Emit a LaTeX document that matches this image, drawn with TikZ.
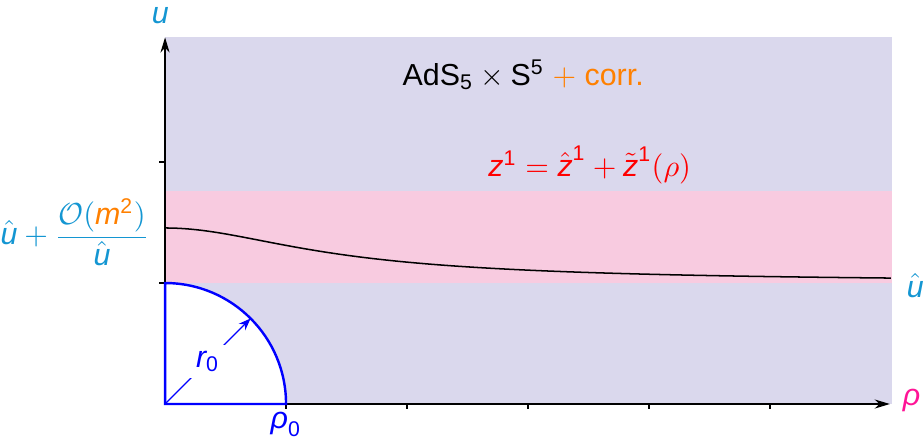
\documentclass[tikz,border=0pt]{standalone}
\usepackage{amsmath}
\usepackage{fontspec}
\setmainfont{Liberation Sans}
\usetikzlibrary{arrows.meta, positioning}

\definecolor{lavbg}{RGB}{218,216,237}
\definecolor{pinkbg}{RGB}{248,203,224}
\definecolor{ucol}{RGB}{20,150,210}
\definecolor{rhocol}{RGB}{255,20,150}
\definecolor{corrcol}{RGB}{255,128,0}

\newcommand{\mv}[1]{\textit{#1}}

\begin{document}
\begin{tikzpicture}[
    x=1.4cm, y=1.4cm,
    axis/.style={-{Stealth[length=5pt, width=3pt]}, line width=0.4pt, draw=black},
    tick/.style={line width=0.4pt, draw=black},
    horizon/.style={draw=blue, line width=0.8pt, fill=white},
    rarr/.style={-{Stealth[length=4pt, width=3pt]}, line width=0.4pt, draw=blue},
    lbl/.style={inner sep=1pt, font=\normalsize},
]

\useasboundingbox (-1.364,-0.281) rectangle (6.264,3.339);

% --- anchors ---
\coordinate (O)    at (0,0);
\coordinate (xend) at (5.99,0);
\coordinate (yend) at (0,3.03);
\coordinate (arcpt) at (45:1);

% --- regions ---
\fill [lavbg]  (0,0) rectangle (6.01,3.03);
\fill [pinkbg] (0,1) rectangle (6.01,1.76);

% --- axes ---
\draw [axis] (O) -- (xend);
\draw [axis] (O) -- (yend);
\foreach \i in {1,...,5}
    \draw [tick] (\i,0) -- (\i,-0.04);
\foreach \j in {1,2}
    \draw [tick] (0,\j) -- (-0.05,\j);

% --- embedding profile ---
\draw [line width=0.5pt] plot[domain=0:6, samples=120]
    (\x, {1 + 0.455/(1 + (\x/1.23)^2)^0.75});

% --- horizon quarter disc ---
\draw [horizon] (O) -- (0,1) arc (90:0:1) -- cycle;
\draw [rarr] (O) -- node[lbl, fill=white, text=blue, inner sep=2pt, pos=0.5]
    {$\mv{r}_{\textrm{0}}$} (arcpt);

% --- axis labels ---
\node (ulbl)   [lbl, text=ucol]   at (-0.04,3.21) {$\mv{u}$};
\node (rholbl) [lbl, text=rhocol] at (6.17,0.03)  {$\mv{ρ}$};
\node (rho0)   [lbl, text=blue, anchor=north] at (1,-0.04) {$\mv{ρ}_{\textrm{0}}$};
\node (uhat)   [lbl, text=ucol]   at (6.2,0.98)   {$\hat{\mv{u}}$};
\node (ustart) [lbl, text=ucol, anchor=east] at (-0.10,1.42)
    {$\displaystyle \hat{\mv{u}} + \frac{\mathcal{O}(\textcolor{corrcol}{\mv{m}^{\textrm{2}}})}{\hat{\mv{u}}}$};

% --- region labels ---
\node (adslbl) [lbl] at (2.96,2.72)
    {AdS$_{\textrm{5}}\times{}$S$^{\textrm{5}}$ \textcolor{corrcol}{$+$ corr.}};
\node (zlbl) [lbl, text=red] at (3.51,1.975)
    {$\mv{z}^{\textrm{1}} = \hat{\mv{z}}^{\textrm{1}} + \tilde{\mv{z}}^{\textrm{1}}(\rho)$};

\end{tikzpicture}
\end{document}
